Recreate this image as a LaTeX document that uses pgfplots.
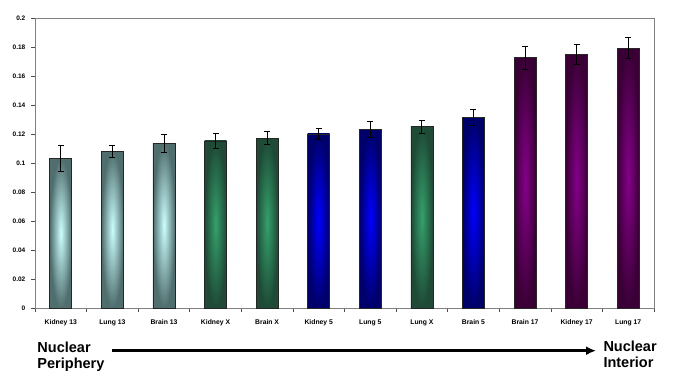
\documentclass[border=0pt]{standalone}
\usepackage{pgfplots}
\pgfplotsset{compat=1.18}
\usetikzlibrary{arrows.meta}
\usepackage{fontspec}
\setmainfont{Liberation Sans}
\definecolor{grayD}{HTML}{506E6E}
\definecolor{grayL}{HTML}{CCFFFF}
\definecolor{greenD}{HTML}{1E4A36}
\definecolor{greenL}{HTML}{35A06C}
\definecolor{blueD}{HTML}{00006A}
\definecolor{blueL}{HTML}{0000FF}
\definecolor{purpD}{HTML}{3A0036}
\definecolor{purpL}{HTML}{85008A}
\definecolor{frame}{HTML}{808080}
\pgfplotsset{
  gbar/.style={inner color=grayL, outer color=grayD, error bars/.cd, y dir=both, y explicit},
  tbar/.style={inner color=greenL, outer color=greenD, error bars/.cd, y dir=both, y explicit},
  bbar/.style={inner color=blueL, outer color=blueD, error bars/.cd, y dir=both, y explicit},
  pbar/.style={inner color=purpL, outer color=purpD, error bars/.cd, y dir=both, y explicit},
}
\begin{document}
\begin{tikzpicture}[x=1bp,y=1bp]
\useasboundingbox (0,0) rectangle (685,378);
\begin{axis}[
  at={(35bp,70bp)}, anchor=south west,
  scale only axis, width=619bp, height=290bp,
  ybar, bar width=22bp, bar shift=0pt,
  xmin=0.5, xmax=12.5, ymin=0, ymax=0.2,
  xtick={1,...,12},
  xticklabels={Kidney 13,Lung 13,Brain 13,Kidney X,Brain X,Kidney 5,Lung 5,Lung X,Brain 5,Brain 17,Kidney 17,Lung 17},
  major x tick style={draw=none},
  minor xtick={0.5,1.5,...,12.5},
  ytick={0,0.02,...,0.2},
  yticklabel={\pgfmathprintnumber[fixed,precision=2]{\tick}},
  /pgf/number format/assume math mode=true,
  tick pos=left, tick align=outside,
  major tick length=4bp, minor tick length=4bp,
  tick style={black!70, line width=0.6bp},
  axis line style={frame, line width=0.8bp},
  xticklabel style={font=\fontsize{6.8bp}{8bp}\selectfont\bfseries, inner sep=0pt, yshift=-7.5bp},
  yticklabel style={font=\fontsize{6.5bp}{8bp}\selectfont\bfseries, inner sep=0pt, xshift=-5.5bp},
  every axis plot/.append style={draw=black!85, line width=0.7bp, shading=radial},
  error bars/error bar style={black, line width=0.8bp},
  error bars/error mark options={rotate=90, mark size=3bp, black, line width=0.8bp},
]
\addplot[gbar] coordinates {(1,0.1032) +- (0,0.0090)};
\addplot[gbar] coordinates {(2,0.1080) +- (0,0.0044)};
\addplot[gbar] coordinates {(3,0.1135) +- (0,0.0060)};
\addplot[tbar] coordinates {(4,0.1152) +- (0,0.0050)};
\addplot[tbar] coordinates {(5,0.1170) +- (0,0.0045)};
\addplot[bbar] coordinates {(6,0.1200) +- (0,0.0040)};
\addplot[bbar] coordinates {(7,0.1230) +- (0,0.0055)};
\addplot[tbar] coordinates {(8,0.1250) +- (0,0.0047)};
\addplot[bbar] coordinates {(9,0.1317) +- (0,0.0055)};
\addplot[pbar] coordinates {(10,0.1726) +- (0,0.0078)};
\addplot[pbar] coordinates {(11,0.1749) +- (0,0.0072)};
\addplot[pbar] coordinates {(12,0.1793) +- (0,0.0070)};
\end{axis}
\begin{scope}[every node/.style={inner sep=0pt, font=\fontsize{14.5bp}{16bp}\selectfont\bfseries}]
\node[anchor=base west] at (37.3,25.7) {Nuclear};
\node[anchor=base west] at (37.3,9.7) {Periphery};
\node[anchor=base west] at (603.3,26.3) {Nuclear};
\node[anchor=base west] at (603.3,10.3) {Interior};
\end{scope}
\draw[line width=3bp, -{Latex[length=10bp,width=9bp]}] (111.7,27.3) -- (596,27.3);
\end{tikzpicture}
\end{document}
